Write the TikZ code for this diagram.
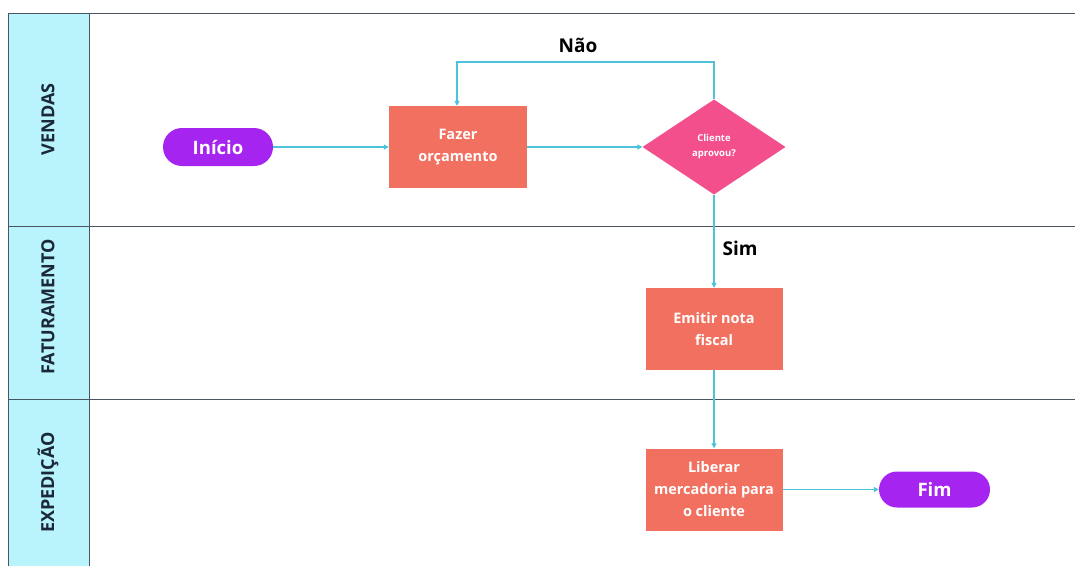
\documentclass[tikz,border=0pt]{standalone}
\usepackage{fontspec}
\setmainfont{Open Sans}
\usetikzlibrary{shapes.geometric,shapes.misc,arrows.meta}
\definecolor{lanefill}{HTML}{B9F3FB}
\definecolor{laneline}{HTML}{4A5560}
\definecolor{procfill}{HTML}{F2705F}
\definecolor{decfill}{HTML}{F24F8C}
\definecolor{termfill}{HTML}{A624F0}
\definecolor{flow}{HTML}{4CC3D8}
\definecolor{headtext}{HTML}{1B2838}
\tikzset{
  proc/.style={rectangle, fill=procfill, minimum width=138pt, minimum height=82pt, text=white, font=\fontsize{14.5}{22}\selectfont\bfseries, align=center, inner sep=0pt},
  dec/.style={diamond, fill=decfill, minimum width=143pt, minimum height=95pt, aspect=1.5, text=white, font=\fontsize{9.5}{15}\selectfont\bfseries, align=center, inner sep=0pt},
  term/.style={rounded rectangle, fill=termfill, text=white, font=\fontsize{18.5}{20}\selectfont\bfseries, inner sep=0pt},
  flowline/.style={draw=flow, line width=1.1pt, -{Triangle[length=5pt,width=5pt]}},
  lanehead/.style={text=headtext, font=\fontsize{18}{20}\selectfont\bfseries, rotate=90},
  edgelabel/.style={text=black, font=\fontsize{19}{22}\selectfont\bfseries}
}
\begin{document}
\begin{tikzpicture}[x=1pt,y=-1pt]
\useasboundingbox (0,0) rectangle (1075,566);
\fill[white] (0,0) rectangle (1075,566);
% lane header column
\fill[lanefill] (8,13) rectangle (89,566);
\draw[laneline, line width=1pt] (8,566) -- (8,13) -- (1075,13);
\draw[laneline, line width=1pt] (89,13) -- (89,566);
\draw[laneline, line width=1pt] (8,226) -- (1075,226);
\draw[laneline, line width=1pt] (8,399) -- (1075,399);
\node[lanehead] (lv) at (48,119.5) {VENDAS};
\node[lanehead] (lf) at (48,307) {FATURAMENTO};
\node[lanehead] (le) at (48,482.5) {EXPEDIÇÃO};
% nodes
\node[term, minimum width=110pt, minimum height=38pt] (ini) at (218,147) {Início};
\node[proc] (orc) at (458,147) {Fazer\\orçamento};
\node[dec] (cli) at (714,147) {Cliente\\aprovou?};
\node[proc, minimum width=137pt] (nf) at (714,329) {Emitir nota\\fiscal};
\node[proc, minimum width=137pt] (lib) at (714,489.5) {Liberar\\mercadoria para\\o cliente};
\node[term, minimum width=111pt, minimum height=36pt] (fim) at (934.5,489.5) {Fim};
\coordinate (c1) at (714,62);
\coordinate (c2) at (457,62);
% edges
\draw[flowline] (ini.east) -- (orc.west);
\draw[flowline] (orc.east) -- (cli.west);
\draw[flowline] (cli.north) -- (c1) -- (c2) -- (orc.north -| c2);
\draw[flowline] (cli.south) -- (nf.north);
\draw[flowline] (nf.south) -- (lib.north);
\draw[flowline] (lib.east) -- (fim.west);
\node[edgelabel] (nao) at (578,45) {Não};
\node[edgelabel] (sim) at (740,248) {Sim};
\end{tikzpicture}
\end{document}
